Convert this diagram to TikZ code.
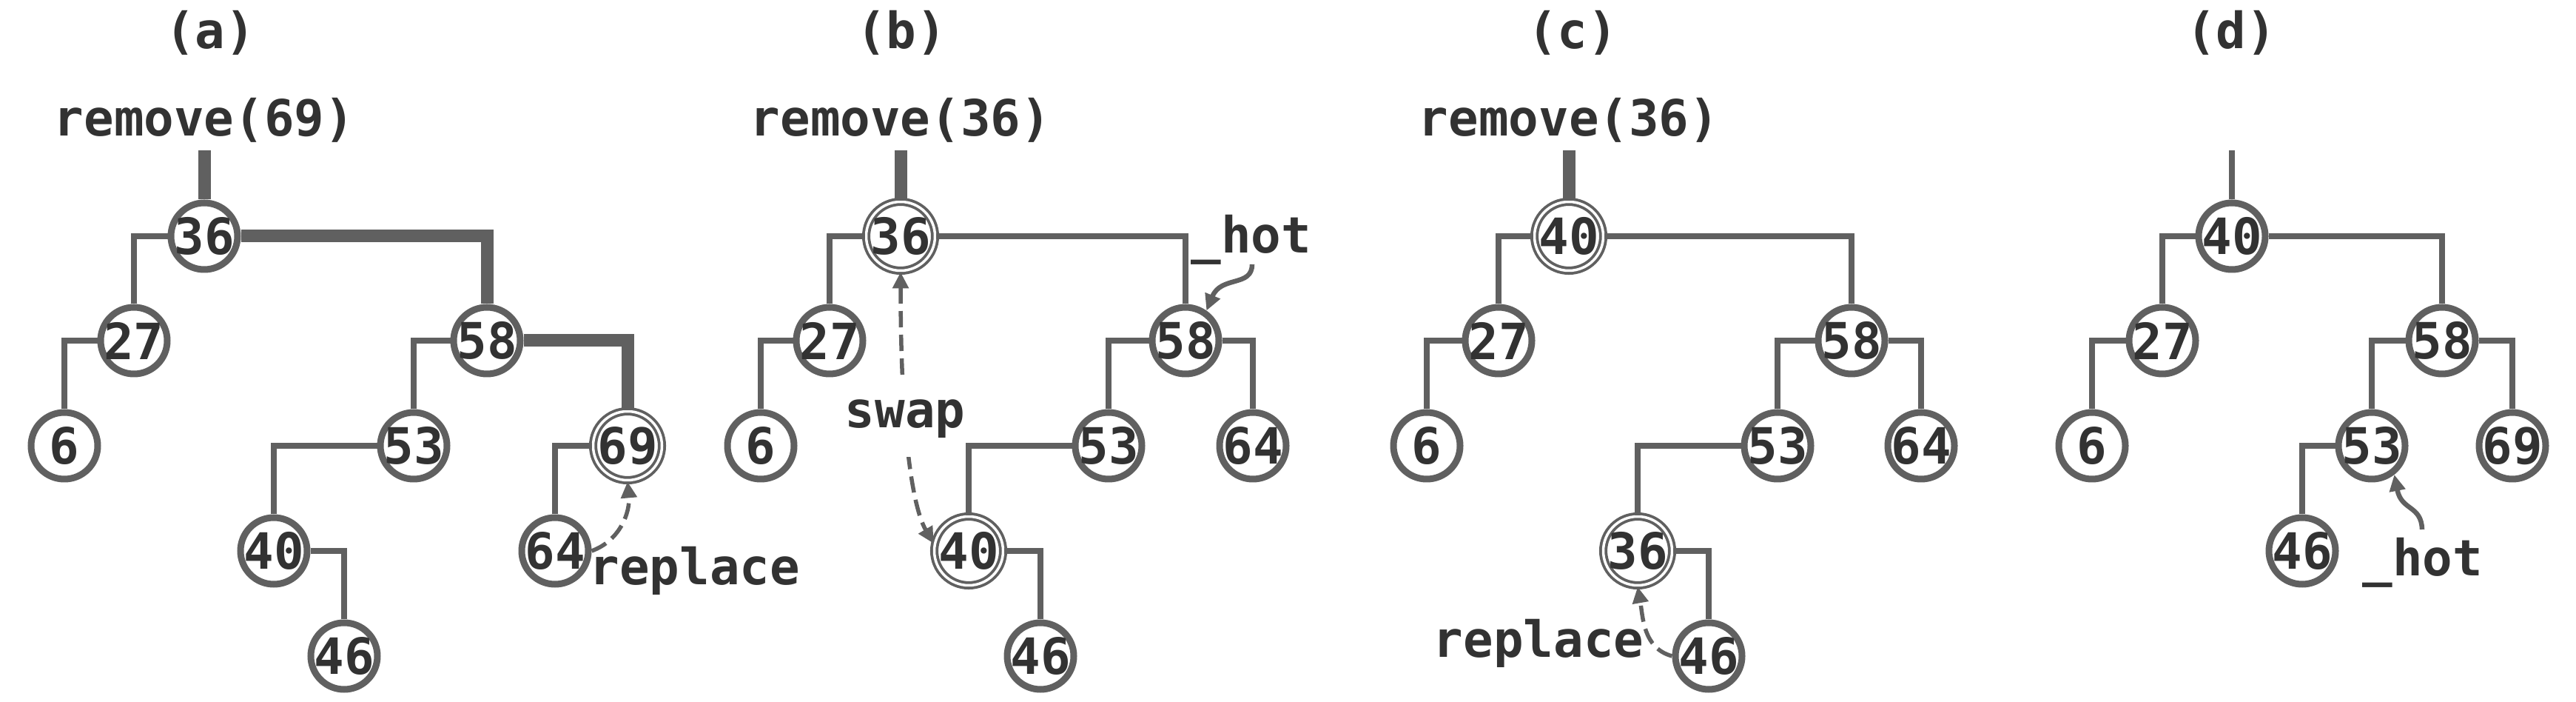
\documentclass[tikz,border=0pt]{standalone}
\usepackage{fontspec}
\setmonofont{DejaVu Sans Mono}
\usepackage{tikz}
\usetikzlibrary{arrows.meta,positioning}
\definecolor{edgegray}{RGB}{96,96,96}
\definecolor{txtgray}{RGB}{50,50,50}

\begin{document}
\begin{tikzpicture}[>={Triangle[length=0.22cm,width=0.21cm]},font=\fontsize{19.2}{22}\selectfont\ttfamily\bfseries,text=txtgray,
  nd/.style={circle,draw=edgegray,line width=0.09cm,fill=white,minimum size=0.9cm,inner sep=-4pt},
  dnd/.style={nd,line width=0.038cm,double=white,double distance=0.035cm,minimum size=0.93cm},
  ed/.style={draw=edgegray,line width=0.08cm},
  hl/.style={draw=edgegray,line width=0.17cm},
  swp/.style={draw=edgegray,line width=0.055cm,dash pattern=on 0.22cm off 0.1cm},
  crv/.style={draw=edgegray,line width=0.065cm},
  lbl/.style={inner sep=0pt}]
\useasboundingbox (0,0) rectangle (34.81,-9.48);

\node[nd] (a36) at (2.76,-3.19) {36};
\node[nd] (a27) at (1.81,-4.60) {27};
\node[nd] (a6) at (0.87,-6.02) {6};
\node[nd] (a58) at (6.58,-4.60) {58};
\node[nd] (a53) at (5.59,-6.02) {53};
\node[dnd] (a69) at (8.48,-6.02) {69};
\node[nd] (a40) at (3.70,-7.44) {40};
\node[nd] (a64) at (7.50,-7.44) {64};
\node[nd] (a46) at (4.65,-8.86) {46};
\coordinate (a0) at (2.76,-2.03);
\draw[hl] (a0) -- (a36.north);
\draw[ed] (a36.west) -| (a27.north);
\draw[hl] (a36.east) -| (a58.north);
\draw[ed] (a27.west) -| (a6.north);
\draw[ed] (a58.west) -| (a53.north);
\draw[hl] (a58.east) -| (a69.north);
\draw[ed] (a53.west) -| (a40.north);
\draw[ed] (a69.west) -| (a64.north);
\draw[ed] (a40.east) -| (a46.north);
\node[lbl] (acap) at (2.84,-0.44) {(a)};
\node[lbl,above=0.1cm of a0] (arm) {remove(69)};
\node[lbl,anchor=base west] (arep) at (7.96,-7.90) {replace};
\draw[swp,->] (a64.east) to[out=20,in=-85] (a69.south);

\node[dnd] (b36) at (12.17,-3.19) {36};
\node[nd] (b27) at (11.21,-4.60) {27};
\node[nd] (b6) at (10.28,-6.02) {6};
\node[nd] (b58) at (16.02,-4.60) {58};
\node[nd] (b53) at (14.98,-6.02) {53};
\node[nd] (b64) at (16.93,-6.02) {64};
\node[dnd] (b40) at (13.09,-7.44) {40};
\node[nd] (b46) at (14.06,-8.86) {46};
\coordinate (b0) at (12.17,-2.03);
\draw[hl] (b0) -- (b36.north);
\draw[ed] (b36.west) -| (b27.north);
\draw[ed] (b36.east) -| (b58.north);
\draw[ed] (b27.west) -| (b6.north);
\draw[ed] (b58.west) -| (b53.north);
\draw[ed] (b58.east) -| (b64.north);
\draw[ed] (b53.west) -| (b40.north);
\draw[ed] (b40.east) -| (b46.north);
\node[lbl] (bcap) at (12.18,-0.44) {(b)};
\node[lbl,above=0.1cm of b0] (brm) {remove(36)};
\draw[swp,<->] (b36.south) .. controls (12.17,-5.6) and (12.30,-6.8) .. (b40.168);
\node[lbl,fill=white,inner ysep=0.25cm,anchor=base] (bsw) at (12.23,-5.78) {swap};
\node[lbl,anchor=base west] (bhot) at (16.09,-3.42) {\_hot};
\coordinate (bh) at (16.92,-3.57);
\draw[crv,->] (bh) .. controls (16.92,-3.88) and (16.50,-3.72) .. (b58.55);

\node[dnd] (c40) at (21.20,-3.19) {40};
\node[nd] (c27) at (20.25,-4.60) {27};
\node[nd] (c6) at (19.28,-6.02) {6};
\node[nd] (c58) at (25.02,-4.60) {58};
\node[nd] (c53) at (24.02,-6.02) {53};
\node[nd] (c64) at (25.96,-6.02) {64};
\node[dnd] (c36) at (22.13,-7.44) {36};
\node[nd] (c46) at (23.09,-8.86) {46};
\coordinate (c0) at (21.20,-2.03);
\draw[hl] (c0) -- (c40.north);
\draw[ed] (c40.west) -| (c27.north);
\draw[ed] (c40.east) -| (c58.north);
\draw[ed] (c27.west) -| (c6.north);
\draw[ed] (c58.west) -| (c53.north);
\draw[ed] (c58.east) -| (c64.north);
\draw[ed] (c53.west) -| (c36.north);
\draw[ed] (c36.east) -| (c46.north);
\node[lbl] (ccap) at (21.25,-0.44) {(c)};
\node[lbl,above=0.1cm of c0] (crm) {remove(36)};
\node[lbl,anchor=base east] (crep) at (22.22,-8.88) {replace};
\draw[swp,->] (c46.west) to[out=165,in=-80] (c36.south);

\node[nd] (d40) at (30.16,-3.19) {40};
\node[nd] (d27) at (29.22,-4.60) {27};
\node[nd] (d6) at (28.27,-6.02) {6};
\node[nd] (d58) at (33.00,-4.60) {58};
\node[nd] (d53) at (32.05,-6.02) {53};
\node[nd] (d69) at (33.95,-6.02) {69};
\node[nd] (d46) at (31.11,-7.44) {46};
\coordinate (d0) at (30.16,-2.03);
\draw[ed] (d0) -- (d40.north);
\draw[ed] (d40.west) -| (d27.north);
\draw[ed] (d40.east) -| (d58.north);
\draw[ed] (d27.west) -| (d6.north);
\draw[ed] (d58.west) -| (d53.north);
\draw[ed] (d58.east) -| (d69.north);
\draw[ed] (d53.west) -| (d46.north);
\node[lbl] (dcap) at (30.15,-0.44) {(d)};
\node[lbl,anchor=base west] (dhot) at (31.92,-7.78) {\_hot};
\coordinate (dh) at (32.73,-7.15);
\draw[crv,->] (dh) .. controls (32.72,-6.82) and (32.45,-6.90) .. (d53.-52);
\end{tikzpicture}
\end{document}
